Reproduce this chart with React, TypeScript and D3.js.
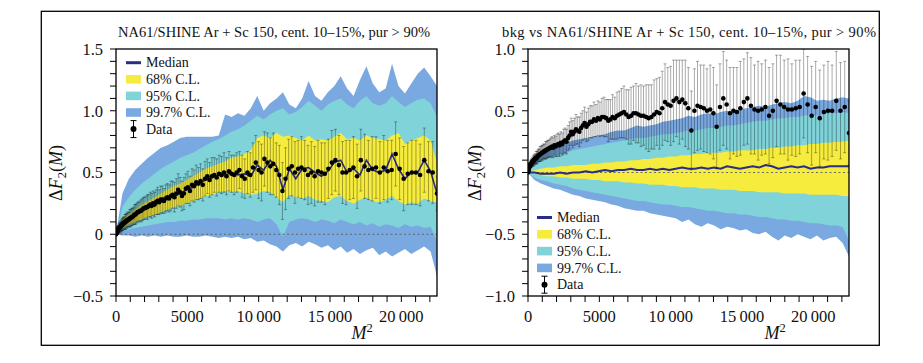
import React from "react";
import * as d3 from "d3";

const FONT = "'Liberation Serif', 'DejaVu Serif', serif";

// x positions: M² for M = 1..150 (data), band grid in M²
const M_VALUES = d3.range(1, 151);
const BAND_X = d3.range(0, 22501, 450);

const X_TICKS = [0, 5000, 10000, 15000, 20000];
const X_TICK_LABELS = ["0", "5000", "10\u2009000", "15\u2009000", "20\u2009000"];
const LEFT_Y_TICKS = [-0.5, 0, 0.5, 1.0, 1.5];
const LEFT_Y_LABELS = ["\u22120.5", "0", "0.5", "1.0", "1.5"];
const RIGHT_Y_TICKS = [-1.0, -0.5, 0, 0.5, 1.0];
const RIGHT_Y_LABELS = ["\u22121.0", "\u22120.5", "0", "0.5", "1.0"];

const LEGEND_LABELS = ["Median", "68% C.L.", "95% C.L.", "99.7% C.L.", "Data"];
const LEFT_TITLE = "NA61/SHINE Ar + Sc 150, cent. 10\u201315%, pur > 90%";
const RIGHT_TITLE = "bkg vs NA61/SHINE Ar + Sc 150, cent. 10\u201315%, pur > 90%";

// ---------- left panel ----------
const leftData = [
  0.00, 0.00, 0.01, 0.01, 0.01, 0.02, 0.02, 0.02, 0.03, 0.03,
  0.03, 0.04, 0.04, 0.05, 0.05, 0.05, 0.06, 0.06, 0.07, 0.07,
  0.08, 0.08, 0.09, 0.09, 0.10, 0.10, 0.11, 0.11, 0.12, 0.12,
  0.13, 0.13, 0.14, 0.14, 0.15, 0.16, 0.16, 0.17, 0.18, 0.18,
  0.19, 0.19, 0.20, 0.21, 0.21, 0.22, 0.22, 0.23, 0.24, 0.23,
  0.25, 0.24, 0.26, 0.27, 0.26, 0.28, 0.28, 0.27, 0.29, 0.30,
  0.29, 0.31, 0.32, 0.30, 0.33, 0.36, 0.34, 0.31, 0.33, 0.37,
  0.38, 0.35, 0.40, 0.39, 0.42, 0.41, 0.43, 0.40, 0.45, 0.47,
  0.44, 0.47, 0.48, 0.46, 0.49, 0.48, 0.50, 0.47, 0.51, 0.49,
  0.48, 0.50, 0.52, 0.47, 0.45, 0.50, 0.48, 0.54, 0.58, 0.52,
  0.50, 0.61, 0.58, 0.55, 0.57, 0.52, 0.48, 0.35, 0.45, 0.53,
  0.55, 0.50, 0.53, 0.54, 0.52, 0.48, 0.50, 0.47, 0.51, 0.50,
  0.49, 0.53, 0.58, 0.60, 0.56, 0.50, 0.50, 0.52, 0.54, 0.47,
  0.60, 0.55, 0.52, 0.53, 0.54, 0.50, 0.54, 0.51, 0.52, 0.65,
  0.53, 0.45, 0.49, 0.50, 0.50, 0.48, 0.60, 0.51, 0.50, 0.33,
];
const leftErr = [
  0.01, 0.01, 0.01, 0.02, 0.02, 0.02, 0.02, 0.02, 0.03, 0.03,
  0.03, 0.03, 0.03, 0.03, 0.04, 0.04, 0.04, 0.04, 0.04, 0.05,
  0.05, 0.05, 0.05, 0.05, 0.06, 0.06, 0.06, 0.06, 0.06, 0.06,
  0.07, 0.07, 0.07, 0.07, 0.07, 0.08, 0.08, 0.08, 0.08, 0.08,
  0.08, 0.09, 0.09, 0.09, 0.09, 0.09, 0.10, 0.09, 0.10, 0.10,
  0.10, 0.10, 0.10, 0.11, 0.10, 0.11, 0.11, 0.10, 0.11, 0.11,
  0.11, 0.12, 0.11, 0.12, 0.12, 0.13, 0.12, 0.12, 0.13, 0.12,
  0.13, 0.12, 0.13, 0.13, 0.14, 0.13, 0.14, 0.13, 0.14, 0.14,
  0.14, 0.15, 0.14, 0.15, 0.15, 0.15, 0.16, 0.15, 0.16, 0.15,
  0.16, 0.16, 0.15, 0.17, 0.16, 0.17, 0.18, 0.20, 0.22, 0.23,
  0.23, 0.22, 0.24, 0.23, 0.25, 0.22, 0.24, 0.23, 0.25, 0.24,
  0.24, 0.25, 0.23, 0.25, 0.24, 0.24, 0.25, 0.24, 0.25, 0.24,
  0.25, 0.24, 0.26, 0.25, 0.24, 0.25, 0.26, 0.24, 0.25, 0.26,
  0.25, 0.26, 0.24, 0.26, 0.25, 0.25, 0.26, 0.25, 0.24, 0.26,
  0.25, 0.26, 0.25, 0.26, 0.26, 0.25, 0.26, 0.24, 0.25, 0.14,
];
const leftMedian = [
  0.00, 0.09, 0.13, 0.16, 0.19, 0.22, 0.24, 0.26, 0.29, 0.31,
  0.33, 0.36, 0.38, 0.42, 0.44, 0.46, 0.48, 0.48, 0.50, 0.48,
  0.49, 0.47, 0.56, 0.52, 0.60, 0.55, 0.36, 0.53, 0.45, 0.53,
  0.54, 0.50, 0.47, 0.51, 0.58, 0.60, 0.50, 0.53, 0.48, 0.60,
  0.52, 0.50, 0.52, 0.65, 0.53, 0.45, 0.50, 0.50, 0.60, 0.51,
  0.33,
];
const left68Lo = [
  0.00, 0.05, 0.08, 0.10, 0.12, 0.14, 0.16, 0.18, 0.20, 0.22,
  0.23, 0.25, 0.27, 0.29, 0.31, 0.32, 0.34, 0.35, 0.34, 0.35,
  0.33, 0.32, 0.33, 0.35, 0.34, 0.30, 0.26, 0.32, 0.30, 0.29,
  0.31, 0.28, 0.27, 0.26, 0.30, 0.31, 0.27, 0.25, 0.28, 0.30,
  0.27, 0.26, 0.28, 0.31, 0.27, 0.24, 0.26, 0.25, 0.29, 0.27,
  0.26,
];
const left68Hi = [
  0.00, 0.12, 0.16, 0.20, 0.24, 0.27, 0.30, 0.33, 0.36, 0.39,
  0.41, 0.44, 0.47, 0.50, 0.53, 0.55, 0.57, 0.59, 0.62, 0.63,
  0.65, 0.68, 0.78, 0.80, 0.78, 0.82, 0.79, 0.80, 0.78, 0.76,
  0.80, 0.76, 0.77, 0.76, 0.79, 0.82, 0.77, 0.78, 0.76, 0.80,
  0.78, 0.77, 0.76, 0.80, 0.82, 0.73, 0.76, 0.78, 0.80, 0.76,
  0.58,
];
const left95Lo = [
  0.00, 0.02, 0.04, 0.05, 0.06, 0.07, 0.08, 0.09, 0.10, 0.10,
  0.11, 0.11, 0.12, 0.12, 0.13, 0.13, 0.13, 0.12, 0.13, 0.12,
  0.13, 0.12, 0.10, 0.12, 0.13, 0.08, -0.02, 0.10, 0.12, 0.13,
  0.12, 0.10, 0.12, 0.11, 0.09, 0.12, 0.10, 0.08, 0.10, 0.07,
  0.09, 0.06, 0.08, 0.07, 0.05, 0.08, 0.06, 0.07, 0.05, 0.06,
  -0.05,
];
const left95Hi = [
  0.00, 0.22, 0.30, 0.36, 0.41, 0.45, 0.49, 0.53, 0.56, 0.59,
  0.62, 0.64, 0.66, 0.69, 0.72, 0.75, 0.77, 0.80, 0.83, 0.85,
  0.88, 0.92, 0.96, 0.93, 0.97, 1.00, 1.02, 0.97, 0.99, 1.03,
  1.08, 1.04, 1.00, 1.05, 1.08, 1.10, 1.05, 1.02, 1.08, 1.12,
  1.06, 1.04, 1.06, 1.12, 1.07, 1.03, 1.06, 1.09, 1.10, 1.06,
  0.95,
];
const left997Lo = [
  0.00, -0.01, -0.01, -0.02, -0.01, -0.02, -0.01, -0.02, -0.01, -0.02,
  -0.02, -0.01, -0.02, -0.02, -0.01, -0.02, -0.03, -0.02, -0.03, -0.02,
  -0.04, -0.03, -0.06, -0.05, -0.08, -0.10, -0.14, -0.09, -0.07, -0.10,
  -0.06, -0.08, -0.11, -0.09, -0.13, -0.10, -0.15, -0.12, -0.16, -0.13,
  -0.11, -0.17, -0.14, -0.18, -0.15, -0.12, -0.16, -0.13, -0.10, -0.14,
  -0.34,
];
const left997Hi = [
  0.00, 0.33, 0.45, 0.52, 0.57, 0.62, 0.66, 0.70, 0.72, 0.75,
  0.78, 0.79, 0.79, 0.79, 0.79, 0.79, 0.80, 0.97, 0.95, 0.98,
  0.96, 1.02, 1.12, 1.00, 1.06, 1.10, 1.15, 1.05, 1.02, 1.10,
  1.24, 1.12, 1.08, 1.15, 1.20, 1.28, 1.18, 1.12, 1.25, 1.36,
  1.22, 1.15, 1.18, 1.38, 1.20, 1.14, 1.22, 1.30, 1.35, 1.28,
  1.20,
];

// ---------- right panel ----------
const rightData = [
  0.00, 0.01, 0.01, 0.02, 0.02, 0.03, 0.03, 0.04, 0.04, 0.05,
  0.05, 0.06, 0.06, 0.07, 0.07, 0.08, 0.08, 0.09, 0.09, 0.10,
  0.10, 0.11, 0.11, 0.12, 0.12, 0.13, 0.14, 0.14, 0.15, 0.15,
  0.16, 0.16, 0.17, 0.17, 0.18, 0.18, 0.19, 0.19, 0.20, 0.20,
  0.21, 0.20, 0.22, 0.21, 0.22, 0.23, 0.22, 0.24, 0.23, 0.25,
  0.26, 0.25, 0.28, 0.30, 0.33, 0.31, 0.33, 0.35, 0.34, 0.33,
  0.36, 0.38, 0.40, 0.37, 0.39, 0.41, 0.41, 0.43, 0.42, 0.44,
  0.43, 0.45, 0.45, 0.44, 0.42, 0.43, 0.45, 0.44, 0.46, 0.47,
  0.48, 0.49, 0.47, 0.45, 0.46, 0.48, 0.48, 0.47, 0.46, 0.46,
  0.45, 0.44, 0.45, 0.47, 0.49, 0.48, 0.52, 0.57, 0.55, 0.54,
  0.58, 0.60, 0.57, 0.59, 0.56, 0.52, 0.34, 0.50, 0.54, 0.53,
  0.52, 0.50, 0.51, 0.48, 0.37, 0.53, 0.60, 0.55, 0.48, 0.50,
  0.49, 0.52, 0.57, 0.60, 0.54, 0.51, 0.50, 0.51, 0.53, 0.46,
  0.50, 0.58, 0.55, 0.53, 0.51, 0.51, 0.52, 0.53, 0.64, 0.55,
  0.46, 0.53, 0.44, 0.49, 0.50, 0.50, 0.58, 0.50, 0.53, 0.32,
];
const rightErr = [
  0.00, 0.01, 0.01, 0.01, 0.01, 0.01, 0.01, 0.02, 0.02, 0.02,
  0.02, 0.02, 0.02, 0.03, 0.03, 0.03, 0.03, 0.03, 0.04, 0.04,
  0.04, 0.04, 0.04, 0.05, 0.05, 0.05, 0.05, 0.05, 0.06, 0.06,
  0.06, 0.06, 0.06, 0.06, 0.07, 0.07, 0.07, 0.07, 0.07, 0.08,
  0.08, 0.08, 0.08, 0.08, 0.09, 0.09, 0.09, 0.09, 0.09, 0.10,
  0.10, 0.10, 0.10, 0.11, 0.11, 0.11, 0.11, 0.12, 0.11, 0.12,
  0.12, 0.12, 0.13, 0.12, 0.13, 0.13, 0.13, 0.14, 0.13, 0.14,
  0.14, 0.15, 0.16, 0.15, 0.17, 0.16, 0.18, 0.17, 0.19, 0.19,
  0.20, 0.21, 0.20, 0.22, 0.23, 0.22, 0.24, 0.23, 0.25, 0.24,
  0.26, 0.27, 0.26, 0.28, 0.27, 0.29, 0.30, 0.31, 0.30, 0.32,
  0.33, 0.31, 0.34, 0.32, 0.35, 0.33, 0.32, 0.34, 0.36, 0.34,
  0.35, 0.34, 0.36, 0.37, 0.34, 0.35, 0.38, 0.36, 0.37, 0.35,
  0.36, 0.38, 0.35, 0.37, 0.39, 0.36, 0.40, 0.37, 0.38, 0.39,
  0.38, 0.37, 0.40, 0.38, 0.41, 0.37, 0.39, 0.38, 0.36, 0.39,
  0.40, 0.37, 0.39, 0.38, 0.40, 0.37, 0.40, 0.39, 0.37, 0.26,
];
const rightMedian = [
  0.00, 0.00, -0.01, -0.01, -0.01, 0.00, -0.01, 0.00, 0.00, 0.01,
  0.00, 0.01, 0.02, 0.01, 0.02, 0.02, 0.03, 0.02, 0.02, 0.03,
  0.02, 0.03, 0.02, 0.03, 0.04, 0.03, 0.03, 0.04, 0.03, 0.04,
  0.03, 0.05, 0.04, 0.03, 0.04, 0.05, 0.04, 0.06, 0.05, 0.03,
  0.04, 0.05, 0.04, 0.05, 0.03, 0.04, 0.04, 0.05, 0.05, 0.05,
  0.05,
];
const right68Lo = [
  0.00, -0.01, -0.02, -0.03, -0.03, -0.04, -0.04, -0.05, -0.05, -0.05,
  -0.06, -0.06, -0.07, -0.07, -0.07, -0.08, -0.08, -0.09, -0.09, -0.10,
  -0.10, -0.10, -0.11, -0.11, -0.12, -0.12, -0.12, -0.13, -0.13, -0.13,
  -0.14, -0.14, -0.14, -0.15, -0.15, -0.15, -0.16, -0.16, -0.16, -0.16,
  -0.17, -0.17, -0.17, -0.17, -0.18, -0.18, -0.18, -0.18, -0.18, -0.19,
  -0.19,
];
const right68Hi = [
  0.00, 0.02, 0.03, 0.04, 0.04, 0.05, 0.05, 0.06, 0.06, 0.06,
  0.07, 0.07, 0.08, 0.08, 0.09, 0.09, 0.10, 0.10, 0.11, 0.11,
  0.12, 0.12, 0.13, 0.13, 0.14, 0.14, 0.15, 0.15, 0.16, 0.16,
  0.16, 0.17, 0.17, 0.18, 0.18, 0.18, 0.19, 0.19, 0.20, 0.20,
  0.21, 0.21, 0.22, 0.22, 0.23, 0.23, 0.24, 0.24, 0.25, 0.25,
  0.26,
];
const right95Lo = [
  0.00, -0.04, -0.06, -0.07, -0.09, -0.10, -0.11, -0.13, -0.14, -0.15,
  -0.16, -0.17, -0.18, -0.19, -0.20, -0.21, -0.22, -0.23, -0.23, -0.24,
  -0.25, -0.26, -0.26, -0.27, -0.28, -0.28, -0.29, -0.30, -0.31, -0.31,
  -0.32, -0.33, -0.33, -0.34, -0.34, -0.35, -0.36, -0.36, -0.37, -0.38,
  -0.38, -0.39, -0.39, -0.40, -0.41, -0.41, -0.42, -0.43, -0.43, -0.44,
  -0.55,
];
const right95Hi = [
  0.00, 0.07, 0.10, 0.12, 0.14, 0.15, 0.16, 0.18, 0.19, 0.20,
  0.21, 0.22, 0.23, 0.24, 0.25, 0.26, 0.27, 0.28, 0.28, 0.29,
  0.30, 0.31, 0.31, 0.32, 0.33, 0.34, 0.34, 0.35, 0.36, 0.36,
  0.37, 0.38, 0.38, 0.39, 0.40, 0.41, 0.42, 0.42, 0.43, 0.44,
  0.44, 0.45, 0.45, 0.46, 0.47, 0.46, 0.47, 0.48, 0.48, 0.49,
  0.48,
];
const right997Lo = [
  0.00, -0.06, -0.09, -0.11, -0.13, -0.14, -0.16, -0.18, -0.19, -0.21,
  -0.22, -0.23, -0.24, -0.26, -0.27, -0.29, -0.30, -0.31, -0.31, -0.33,
  -0.34, -0.35, -0.36, -0.37, -0.40, -0.38, -0.42, -0.44, -0.41, -0.43,
  -0.46, -0.44, -0.45, -0.47, -0.46, -0.49, -0.50, -0.48, -0.52, -0.55,
  -0.51, -0.53, -0.50, -0.52, -0.54, -0.51, -0.55, -0.53, -0.52, -0.57,
  -0.68,
];
const right997Hi = [
  0.00, 0.10, 0.14, 0.17, 0.20, 0.22, 0.24, 0.26, 0.27, 0.28,
  0.29, 0.30, 0.31, 0.33, 0.34, 0.34, 0.36, 0.38, 0.37, 0.38,
  0.39, 0.41, 0.42, 0.43, 0.44, 0.46, 0.45, 0.47, 0.48, 0.47,
  0.49, 0.50, 0.49, 0.51, 0.52, 0.53, 0.54, 0.53, 0.55, 0.56,
  0.57, 0.56, 0.58, 0.62, 0.61, 0.58, 0.59, 0.58, 0.60, 0.61,
  0.60,
];

const COLORS = {
  median: "#2b2c86",
  c68: "#f6ec3e",
  c95: "#7fd3d9",
  c997: "#7aa9e1",
};

type PanelProps = {
  id: string;
  left: number; right: number; top: number; bottom: number;
  yDomain: [number, number];
  yTicks: number[]; yLabels: string[];
  data: number[]; err: number[]; median: number[];
  lo68: number[]; hi68: number[]; lo95: number[]; hi95: number[]; lo997: number[]; hi997: number[];
  title: string; titleX: number; titleLen: number;
  legendX: number; legendY: number; legendStep: number;
  ylabelX: number; xlabelX: number; medianWidth: number;
};

function Panel(p: PanelProps) {
  const x = d3.scaleLinear().domain([0, 22500]).range([p.left, p.right]);
  const y = d3.scaleLinear().domain(p.yDomain).range([p.bottom, p.top]);
  const area = (lo: number[], hi: number[]) =>
    d3.area<number>()
      .x((d) => x(d))
      .y0((_, i) => y(lo[i]))
      .y1((_, i) => y(hi[i]))(BAND_X) || "";
  const medLine = d3.line<number>().x((d) => x(d)).y((_, i) => y(p.median[i]))(BAND_X) || "";
  const xMinor = d3.range(0, 22001, 1000);
  const yMinor = d3.range(Math.round(p.yDomain[0] * 10), Math.round(p.yDomain[1] * 10) + 1).map((v) => v / 10);
  const clipId = `clip-${p.id}`;
  const lx = p.legendX;
  const rows = LEGEND_LABELS.map((_, i) => p.legendY + i * p.legendStep);
  return (
    <g>
      <defs>
        <clipPath id={clipId}>
          <rect x={p.left} y={p.top} width={p.right - p.left} height={p.bottom - p.top} />
        </clipPath>
      </defs>
      <g clipPath={`url(#${clipId})`}>
        <path d={area(p.lo997, p.hi997)} fill={COLORS.c997} />
        <path d={area(p.lo95, p.hi95)} fill={COLORS.c95} />
        <path d={area(p.lo68, p.hi68)} fill={COLORS.c68} />
        <line x1={p.left} x2={p.right} y1={y(0)} y2={y(0)} stroke="#666" strokeWidth={1.1} strokeDasharray="2,2.5" />
        <path d={medLine} fill="none" stroke={COLORS.median} strokeWidth={p.medianWidth} />
        {M_VALUES.map((m, i) => {
          const cx = x(m * m);
          const y1 = y(p.data[i] + p.err[i]);
          const y2 = y(p.data[i] - p.err[i]);
          return (
            <g key={`e${i}`} stroke="#000" strokeOpacity={0.42} strokeWidth={0.8}>
              <line x1={cx} x2={cx} y1={y1} y2={y2} />
              <line x1={cx - 1.5} x2={cx + 1.5} y1={y1} y2={y1} />
              <line x1={cx - 1.5} x2={cx + 1.5} y1={y2} y2={y2} />
            </g>
          );
        })}
        {M_VALUES.map((m, i) => (
          <circle key={`d${i}`} cx={x(m * m)} cy={y(p.data[i])} r={2.3} fill="#000" />
        ))}
      </g>
      {/* legend */}
      <g fontFamily={FONT} fontSize={14}>
        <rect x={lx} y={rows[0] - 1.5} width={15} height={3} fill={COLORS.median} />
        <rect x={lx} y={rows[1] - 4.3} width={15} height={8.6} fill={COLORS.c68} />
        <rect x={lx} y={rows[2] - 4.3} width={15} height={8.6} fill={COLORS.c95} />
        <rect x={lx} y={rows[3] - 4.3} width={15} height={8.6} fill={COLORS.c997} />
        <g stroke="#000" strokeWidth={1}>
          <line x1={lx + 7.5} x2={lx + 7.5} y1={rows[4] - 8.5} y2={rows[4] + 8.5} />
          <line x1={lx + 4.5} x2={lx + 10.5} y1={rows[4] - 8.5} y2={rows[4] - 8.5} />
          <line x1={lx + 4.5} x2={lx + 10.5} y1={rows[4] + 8.5} y2={rows[4] + 8.5} />
        </g>
        <circle cx={lx + 7.5} cy={rows[4]} r={3} fill="#000" />
        {LEGEND_LABELS.map((t, i) => (
          <text key={t} x={lx + 20} y={rows[i]} dy="0.33em" fill="#111">{t}</text>
        ))}
      </g>
      {/* frame */}
      <rect x={p.left} y={p.top} width={p.right - p.left} height={p.bottom - p.top} fill="none" stroke="#000" strokeWidth={1.3} />
      {/* x ticks */}
      {xMinor.map((v) => (
        <line key={`xt${v}`} x1={x(v)} x2={x(v)} y1={p.bottom} y2={p.bottom + 6} stroke="#000" strokeWidth={1} />
      ))}
      {X_TICKS.map((v, i) => (
        <text key={`xl${v}`} x={x(v)} y={322} textAnchor="middle" fontFamily={FONT} fontSize={16.5} fill="#111">{X_TICK_LABELS[i]}</text>
      ))}
      {/* y ticks */}
      {yMinor.map((v) => (
        <line key={`yt${v}`} x1={p.left - 6} x2={p.left} y1={y(v)} y2={y(v)} stroke="#000" strokeWidth={1} />
      ))}
      {p.yTicks.map((v, i) => (
        <text key={`yl${v}`} x={p.left - 13} y={y(v)} dy="0.36em" textAnchor="end" fontFamily={FONT} fontSize={16.5} fill="#111">{p.yLabels[i]}</text>
      ))}
      {/* title */}
      <text x={p.titleX} y={36.5} textAnchor="middle" fontFamily={FONT} fontSize={14.5} fill="#111"
        textLength={p.titleLen} lengthAdjust="spacing">{p.title}</text>
      {/* y label */}
      <text transform={`translate(${p.ylabelX},173) rotate(-90)`} textAnchor="middle" fontFamily={FONT} fontSize={18} fill="#111">
        <tspan>{"\u0394"}</tspan>
        <tspan fontStyle="italic">F</tspan>
        <tspan fontSize={12.5} dy={4}>2</tspan>
        <tspan dy={-4}>(</tspan>
        <tspan fontStyle="italic">M</tspan>
        <tspan>)</tspan>
      </text>
      {/* x label */}
      <text x={p.xlabelX} y={339} textAnchor="middle" fontFamily={FONT} fontSize={18} fill="#111">
        <tspan fontStyle="italic">M</tspan>
        <tspan fontSize={12.5} dy={-7}>2</tspan>
      </text>
    </g>
  );
}

export default function App() {
  return (
    <svg width={923} height={363} style={{ position: "absolute", left: 0, top: 0, background: "#fff" }}>
      <rect x={0} y={0} width={923} height={363} fill="#fff" />
      <rect x={41.3} y={11.3} width={838} height={334} fill="none" stroke="#000" strokeWidth={1.3} />
      <Panel
        id="left" left={116} right={437} top={49} bottom={296}
        yDomain={[-0.5, 1.5]} yTicks={LEFT_Y_TICKS} yLabels={LEFT_Y_LABELS}
        data={leftData} err={leftErr} median={leftMedian}
        lo68={left68Lo} hi68={left68Hi} lo95={left95Lo} hi95={left95Hi} lo997={left997Lo} hi997={left997Hi}
        title={LEFT_TITLE} titleX={274} titleLen={312}
        legendX={126} legendY={62.7} legendStep={16.6}
        ylabelX={62} xlabelX={362} medianWidth={1.6}
      />
      <Panel
        id="right" left={528} right={849} top={49} bottom={296}
        yDomain={[-1.0, 1.0]} yTicks={RIGHT_Y_TICKS} yLabels={RIGHT_Y_LABELS}
        data={rightData} err={rightErr} median={rightMedian}
        lo68={right68Lo} hi68={right68Hi} lo95={right95Lo} hi95={right95Hi} lo997={right997Lo} hi997={right997Hi}
        title={RIGHT_TITLE} titleX={689} titleLen={374}
        legendX={537} legendY={217.5} legendStep={16.8}
        ylabelX={481} xlabelX={775} medianWidth={2}
      />
    </svg>
  );
}
